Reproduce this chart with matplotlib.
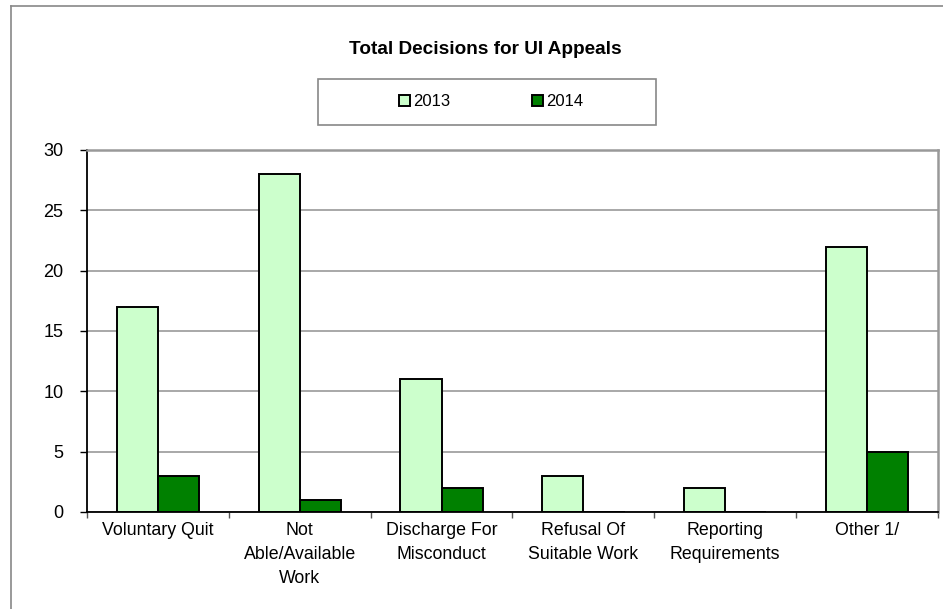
import matplotlib
matplotlib.use("Agg")
import matplotlib.pyplot as plt
import numpy as np
from matplotlib.patches import Patch, Rectangle
from matplotlib.lines import Line2D

categories = ["Voluntary Quit", "Not\nAble/Available\nWork", "Discharge For\nMisconduct",
              "Refusal Of\nSuitable Work", "Reporting\nRequirements", "Other 1/"]
values_2013 = [17, 28, 11, 3, 2, 22]
values_2014 = [3, 1, 2, 0, 0, 5]
series_names = ["2013", "2014"]
yticks = [0, 5, 10, 15, 20, 25, 30]

plt.rcParams['font.family'] = ['Liberation Sans', 'DejaVu Sans']

W, H = 943, 609
fig = plt.figure(figsize=(W / 100, H / 100), dpi=100)

# outer chart frame
fig.add_artist(Line2D([11 / W, 11 / W], [0, 1 - 6 / H], color='#888888', lw=1.2,
                      transform=fig.transFigure))
fig.add_artist(Line2D([11 / W, 1], [1 - 6 / H, 1 - 6 / H], color='#888888', lw=1.2,
                      transform=fig.transFigure))

ax = fig.add_axes([87 / W, 1 - 512 / H, (938 - 87) / W, (512 - 150) / H])

x = np.arange(len(categories))
bw = 0.29
c13 = '#CCFFCC'
c14 = '#008000'
ax.bar(x - bw / 2, values_2013, bw, color=c13, edgecolor='black', linewidth=1.4, zorder=3)
ax.bar(x + bw / 2, values_2014, bw, color=c14, edgecolor='black', linewidth=1.4, zorder=3)

ax.set_xlim(-0.5, len(categories) - 0.5)
ax.set_ylim(0, 30)
ax.set_yticks(yticks)
ax.set_yticklabels([str(v) for v in yticks], fontsize=13)
ax.tick_params(axis='y', length=5, width=1, pad=12, color='black')

ax.set_xticks(np.arange(len(categories) + 1) - 0.5)
ax.set_xticklabels([''] * (len(categories) + 1))
ax.tick_params(axis='x', which='major', length=4, width=1, direction='out', color='#555555')
ax.set_xticks(x, minor=True)
ax.set_xticklabels(categories, minor=True, fontsize=12.8, linespacing=1.55)
ax.tick_params(axis='x', which='minor', length=0, pad=7)

ax.yaxis.grid(True, color='#999999', linewidth=1.2, zorder=0)
ax.set_axisbelow(True)
for s in ['top', 'right']:
    ax.spines[s].set_color('#999999')
    ax.spines[s].set_linewidth(1.8)
for s in ['left', 'bottom']:
    ax.spines[s].set_color('black')
    ax.spines[s].set_linewidth(1.3)
ax.spines['bottom'].set_zorder(4)

# title
fig.text(485 / W, 1 - 49 / H, "Total Decisions for UI Appeals", ha='center', va='center',
         fontsize=13.7, fontweight='bold')

# legend box
fig.add_artist(Rectangle((318 / W, 1 - 125 / H), 338 / W, 46 / H, transform=fig.transFigure,
                         facecolor='white', edgecolor='#888888', lw=1.2))
handles = [Patch(facecolor=c13, edgecolor='black', linewidth=1.4),
           Patch(facecolor=c14, edgecolor='black', linewidth=1.4)]
leg = fig.legend(handles, series_names, loc='center', bbox_to_anchor=(491 / W, 1 - 102 / H),
                 ncol=2, frameon=False, fontsize=12, handlelength=0.65, handleheight=0.65,
                 handletextpad=0.2, columnspacing=4.9)

fig.savefig("out.png", dpi=100)
